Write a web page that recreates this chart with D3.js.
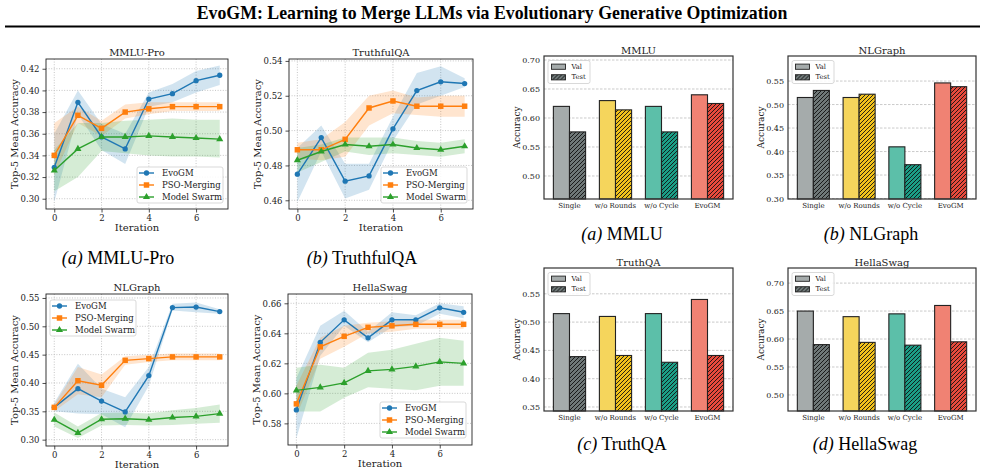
<!DOCTYPE html>
<html>
<head>
<meta charset="utf-8">
<script src="https://cdn.jsdelivr.net/npm/d3@7"></script>
<style>
  body { margin: 0; background: #fff; }
  svg text { font-family: "DejaVu Serif", serif; fill: #222; }
  svg .cap, svg .cap tspan, svg .main-title { font-family: "Liberation Serif", "Times New Roman", serif; fill: #000; }
</style>
</head>
<body>
<svg width="985" height="472"></svg>
<script>
// ---- data ----
const iterations = [0, 1, 2, 3, 4, 5, 6, 7];
const methods = ['EvoGM', 'PSO-Merging', 'Model Swarm'];

// rows: EvoGM, PSO-Merging, Model Swarm
const mmluProMean = [
  [0.329, 0.389, 0.357, 0.346, 0.392, 0.397, 0.409, 0.414],
  [0.340, 0.377, 0.365, 0.380, 0.383, 0.385, 0.385, 0.385],
  [0.326, 0.346, 0.357, 0.357, 0.358, 0.357, 0.356, 0.355]
];
const mmluProLow = [
  [0.297, 0.378, 0.345, 0.332, 0.385, 0.389, 0.398, 0.405],
  [0.322, 0.370, 0.358, 0.374, 0.378, 0.381, 0.381, 0.381],
  [0.307, 0.320, 0.344, 0.342, 0.340, 0.339, 0.339, 0.338]
];
const mmluProHigh = [
  [0.360, 0.400, 0.369, 0.360, 0.398, 0.406, 0.418, 0.423],
  [0.370, 0.385, 0.372, 0.387, 0.389, 0.389, 0.389, 0.389],
  [0.345, 0.370, 0.370, 0.372, 0.373, 0.374, 0.373, 0.373]
];

const truthfulMean = [
  [0.475, 0.496, 0.471, 0.474, 0.501, 0.523, 0.528, 0.527],
  [0.489, 0.489, 0.495, 0.513, 0.517, 0.514, 0.514, 0.514],
  [0.483, 0.488, 0.492, 0.491, 0.492, 0.490, 0.489, 0.491]
];
const truthfulLow = [
  [0.459, 0.488, 0.461, 0.466, 0.494, 0.515, 0.520, 0.525],
  [0.484, 0.483, 0.485, 0.503, 0.510, 0.509, 0.508, 0.508],
  [0.476, 0.482, 0.488, 0.486, 0.487, 0.486, 0.485, 0.487]
];
const truthfulHigh = [
  [0.490, 0.503, 0.481, 0.481, 0.508, 0.533, 0.537, 0.530],
  [0.493, 0.495, 0.505, 0.520, 0.523, 0.519, 0.520, 0.520],
  [0.490, 0.492, 0.496, 0.496, 0.496, 0.494, 0.493, 0.495]
];

const nlgraphMean = [
  [0.357, 0.390, 0.368, 0.349, 0.413, 0.533, 0.534, 0.526],
  [0.357, 0.404, 0.396, 0.440, 0.443, 0.446, 0.446, 0.446],
  [0.335, 0.312, 0.336, 0.337, 0.335, 0.339, 0.341, 0.346]
];
const nlgraphLow = [
  [0.350, 0.346, 0.345, 0.322, 0.395, 0.528, 0.525, 0.522],
  [0.350, 0.380, 0.375, 0.432, 0.437, 0.440, 0.440, 0.440],
  [0.323, 0.303, 0.325, 0.326, 0.325, 0.326, 0.328, 0.330]
];
const nlgraphHigh = [
  [0.365, 0.434, 0.390, 0.375, 0.428, 0.540, 0.542, 0.530],
  [0.362, 0.428, 0.415, 0.447, 0.450, 0.452, 0.452, 0.452],
  [0.348, 0.323, 0.347, 0.348, 0.346, 0.352, 0.356, 0.362]
];

const hellaMean = [
  [0.589, 0.634, 0.649, 0.637, 0.649, 0.649, 0.657, 0.654],
  [0.593, 0.631, 0.638, 0.644, 0.645, 0.646, 0.646, 0.646],
  [0.602, 0.604, 0.607, 0.615, 0.616, 0.618, 0.621, 0.620]
];
const hellaLow = [
  [0.570, 0.625, 0.645, 0.634, 0.644, 0.645, 0.653, 0.650],
  [0.585, 0.623, 0.631, 0.640, 0.641, 0.643, 0.643, 0.643],
  [0.588, 0.588, 0.597, 0.604, 0.603, 0.602, 0.605, 0.605]
];
const hellaHigh = [
  [0.610, 0.645, 0.655, 0.641, 0.654, 0.652, 0.660, 0.658],
  [0.605, 0.637, 0.645, 0.647, 0.648, 0.649, 0.649, 0.649],
  [0.617, 0.619, 0.617, 0.627, 0.629, 0.633, 0.637, 0.635]
];

const barCategories = ['Single', 'w/o Rounds', 'w/o Cycle', 'EvoGM'];
const mmluVal = [0.620, 0.630, 0.620, 0.640];
const mmluTest = [0.576, 0.614, 0.576, 0.625];
const nlgBarVal = [0.515, 0.515, 0.410, 0.546];
const nlgBarTest = [0.530, 0.522, 0.372, 0.538];
const truthQAVal = [0.515, 0.510, 0.515, 0.540];
const truthQATest = [0.439, 0.441, 0.429, 0.441];
const hellaBarVal = [0.650, 0.640, 0.645, 0.660];
const hellaBarTest = [0.590, 0.594, 0.589, 0.595];

// ---- drawing ----
const svg = d3.select('svg');
const lineColors = ['#1f77b4', '#ff7f0e', '#2ca02c'];
const symbols = [d3.symbolCircle, d3.symbolSquare, d3.symbolTriangle];
const symbolSizes = [22, 30, 22];
const valColors = ['#a5abab', '#f5d55c', '#5cbfa9', '#f08273'];
const testColors = ['#6f7878', '#f2c21b', '#1b9e86', '#e84a3c'];

// hatch patterns for the test bars
const defs = svg.append('defs');
testColors.forEach((c, i) => {
  const p = defs.append('pattern')
    .attr('id', 'hatch' + i)
    .attr('patternUnits', 'userSpaceOnUse')
    .attr('width', 4).attr('height', 4);
  p.append('rect').attr('width', 4).attr('height', 4).attr('fill', c);
  p.append('path')
    .attr('d', 'M-1,1 l2,-2 M0,4 l4,-4 M3,5 l2,-2')
    .attr('stroke', '#111').attr('stroke-width', 0.9);
});

// header
svg.append('text')
  .attr('class', 'main-title')
  .attr('x', 492).attr('y', 19)
  .attr('text-anchor', 'middle')
  .attr('font-size', 17.8).attr('font-weight', 'bold')
  .text('EvoGM: Learning to Merge LLMs via Evolutionary Generative Optimization');
svg.append('line')
  .attr('x1', 5).attr('x2', 980).attr('y1', 26.5).attr('y2', 26.5)
  .attr('stroke', '#000').attr('stroke-width', 2.2);

function caption(x, y, letter, name) {
  const t = svg.append('text').attr('class', 'cap')
    .attr('x', x).attr('y', y).attr('text-anchor', 'middle').attr('font-size', 18);
  t.append('tspan').attr('font-style', 'italic').text(`(${letter})`);
  t.append('tspan').text(' ' + name);
}

function styleAxis(sel, size) {
  sel.select('.domain').remove();
  sel.selectAll('text').attr('font-family', '"DejaVu Serif", serif')
    .attr('font-size', size).attr('fill', '#222');
  sel.selectAll('.tick line').attr('stroke', '#222').attr('stroke-width', 0.8);
}

function lineChart(o) {
  const x = d3.scaleLinear().domain([-0.35, 7.35]).range([o.left, o.right]);
  const y = d3.scaleLinear().domain(o.yDomain).range([o.bottom, o.top]);
  const g = svg.append('g');

  // dotted grid
  g.selectAll('.gx').data([0, 2, 4, 6]).join('line')
    .attr('x1', d => x(d)).attr('x2', d => x(d))
    .attr('y1', o.top).attr('y2', o.bottom)
    .attr('stroke', '#b8b8b8').attr('stroke-width', 0.8).attr('stroke-dasharray', '1,1.6');
  g.selectAll('.gy').data(o.yTicks).join('line')
    .attr('x1', o.left).attr('x2', o.right)
    .attr('y1', d => y(d)).attr('y2', d => y(d))
    .attr('stroke', '#b8b8b8').attr('stroke-width', 0.8).attr('stroke-dasharray', '1,1.6');

  // shaded bands
  methods.forEach((m, i) => {
    const area = d3.area()
      .x(d => x(d))
      .y0(d => y(o.low[i][d]))
      .y1(d => y(o.high[i][d]));
    g.append('path').datum(iterations)
      .attr('d', area).attr('fill', lineColors[i]).attr('fill-opacity', 0.2);
  });

  // lines and markers
  methods.forEach((m, i) => {
    const line = d3.line().x(d => x(d)).y(d => y(o.mean[i][d]));
    g.append('path').datum(iterations)
      .attr('d', line).attr('fill', 'none')
      .attr('stroke', lineColors[i]).attr('stroke-width', 1.4);
    g.selectAll('.m' + i).data(iterations).join('path')
      .attr('transform', d => `translate(${x(d)},${y(o.mean[i][d])})`)
      .attr('d', d3.symbol(symbols[i], symbolSizes[i]))
      .attr('fill', lineColors[i]);
  });

  // frame
  g.append('rect')
    .attr('x', o.left).attr('y', o.top)
    .attr('width', o.right - o.left).attr('height', o.bottom - o.top)
    .attr('fill', 'none').attr('stroke', '#222').attr('stroke-width', 0.9);

  // axes
  g.append('g').attr('transform', `translate(0,${o.bottom})`)
    .call(d3.axisBottom(x).tickValues([0, 2, 4, 6]).tickSize(3.5).tickPadding(2).tickFormat(d3.format('d')))
    .call(s => styleAxis(s, 8.5));
  g.append('g').attr('transform', `translate(${o.left},0)`)
    .call(d3.axisLeft(y).tickValues(o.yTicks).tickSize(3.5).tickPadding(3).tickFormat(d3.format('.2f')))
    .call(s => styleAxis(s, 8.5));

  g.append('text')
    .attr('x', (o.left + o.right) / 2).attr('y', o.top - 3)
    .attr('text-anchor', 'middle').attr('font-size', 10).text(o.title);
  g.append('text')
    .attr('x', (o.left + o.right) / 2).attr('y', o.bottom + 22)
    .attr('text-anchor', 'middle').attr('font-size', 10).text('Iteration');
  g.append('text')
    .attr('transform', `translate(${o.left - 32},${(o.top + o.bottom) / 2}) rotate(-90)`)
    .attr('text-anchor', 'middle').attr('dominant-baseline', 'central')
    .attr('font-size', 10).text('Top-5 Mean Accuracy');

  // legend
  const lg = g.append('g').attr('transform', `translate(${o.legend[0]},${o.legend[1]})`);
  lg.append('rect').attr('width', 86).attr('height', 36).attr('rx', 2)
    .attr('fill', '#fff').attr('fill-opacity', 0.85)
    .attr('stroke', '#cfcfcf').attr('stroke-width', 0.8);
  methods.forEach((m, i) => {
    const ry = 6 + i * 12;
    lg.append('line').attr('x1', 2).attr('x2', 17).attr('y1', ry).attr('y2', ry)
      .attr('stroke', lineColors[i]).attr('stroke-width', 1.4);
    lg.append('path').attr('transform', `translate(9.5,${ry})`)
      .attr('d', d3.symbol(symbols[i], symbolSizes[i])).attr('fill', lineColors[i]);
    lg.append('text').attr('x', 25).attr('y', ry).attr('dominant-baseline', 'central')
      .attr('font-size', 8.5).text(m);
  });
}

function barChart(o) {
  const x = d3.scaleBand().domain(barCategories)
    .range([o.left, o.right]).paddingInner(0).paddingOuter(0.054);
  const y = d3.scaleLinear().domain(o.yDomain).range([o.bottom, o.top]);
  const bw = x.step() * 0.35;
  const g = svg.append('g');

  g.selectAll('.gy').data(o.yTicks).join('line')
    .attr('x1', o.left).attr('x2', o.right)
    .attr('y1', d => y(d)).attr('y2', d => y(d))
    .attr('stroke', '#bdbdbd').attr('stroke-width', 0.8).attr('stroke-dasharray', '2.5,1.5');

  const cx = c => x(c) + x.bandwidth() / 2;
  g.selectAll('.val').data(barCategories).join('rect')
    .attr('x', d => cx(d) - bw).attr('width', bw)
    .attr('y', (d, i) => y(o.val[i])).attr('height', (d, i) => o.bottom - y(o.val[i]))
    .attr('fill', (d, i) => valColors[i])
    .attr('stroke', '#222').attr('stroke-width', 1.1);
  g.selectAll('.test').data(barCategories).join('rect')
    .attr('x', d => cx(d)).attr('width', bw)
    .attr('y', (d, i) => y(o.test[i])).attr('height', (d, i) => o.bottom - y(o.test[i]))
    .attr('fill', (d, i) => `url(#hatch${i})`)
    .attr('stroke', '#222').attr('stroke-width', 1.1);

  g.append('rect')
    .attr('x', o.left).attr('y', o.top)
    .attr('width', o.right - o.left).attr('height', o.bottom - o.top)
    .attr('fill', 'none').attr('stroke', '#333').attr('stroke-width', 1.2);

  g.append('g').attr('transform', `translate(0,${o.bottom})`)
    .call(d3.axisBottom(x).tickSize(0).tickPadding(4))
    .call(s => styleAxis(s, 7));
  g.append('g').attr('transform', `translate(${o.left},0)`)
    .call(d3.axisLeft(y).tickValues(o.yTicks).tickSize(0).tickPadding(4).tickFormat(d3.format('.2f')))
    .call(s => styleAxis(s, 8));

  g.append('text')
    .attr('x', (o.left + o.right) / 2).attr('y', o.top - 2.5)
    .attr('text-anchor', 'middle').attr('font-size', 10).text(o.title);
  g.append('text')
    .attr('transform', `translate(${o.left - 27.5},${(o.top + o.bottom) / 2}) rotate(-90)`)
    .attr('text-anchor', 'middle').attr('dominant-baseline', 'central')
    .attr('font-size', 9).text('Accuracy');

  // legend
  const lg = g.append('g').attr('transform', `translate(${o.left + 4},${o.top + 4.5})`);
  lg.append('rect').attr('width', 42).attr('height', 23).attr('rx', 2)
    .attr('fill', '#fff').attr('fill-opacity', 0.85)
    .attr('stroke', '#cfcfcf').attr('stroke-width', 0.8);
  [['Val', valColors[0]], ['Test', 'url(#hatch0)']].forEach(([label, fill], i) => {
    const ry = 6.2 + i * 10.6;
    lg.append('rect').attr('x', 3.5).attr('y', ry - 2.6).attr('width', 14).attr('height', 5.2)
      .attr('fill', fill).attr('stroke', '#222').attr('stroke-width', 0.9);
    lg.append('text').attr('x', 23.5).attr('y', ry).attr('dominant-baseline', 'central')
      .attr('font-size', 6.8).attr('fill', '#222').text(label);
  });
}

const t02 = d => d3.range(d[0], d[1] + 1e-9, d[2]).map(v => +v.toFixed(2));

lineChart({ title: 'MMLU-Pro', left: 46, right: 228, top: 59, bottom: 209,
  yDomain: [0.2905, 0.429], yTicks: t02([0.30, 0.42, 0.02]),
  mean: mmluProMean, low: mmluProLow, high: mmluProHigh, legend: [137, 167] });
lineChart({ title: 'TruthfulQA', left: 289, right: 473, top: 59, bottom: 209,
  yDomain: [0.455, 0.5411], yTicks: t02([0.46, 0.54, 0.02]),
  mean: truthfulMean, low: truthfulLow, high: truthfulHigh, legend: [381, 167] });
lineChart({ title: 'NLGraph', left: 46, right: 228, top: 294, bottom: 446,
  yDomain: [0.2888, 0.557], yTicks: t02([0.30, 0.55, 0.05]),
  mean: nlgraphMean, low: nlgraphLow, high: nlgraphHigh, legend: [50, 300] });
lineChart({ title: 'HellaSwag', left: 288, right: 472, top: 294, bottom: 445,
  yDomain: [0.5656, 0.6662], yTicks: t02([0.58, 0.66, 0.02]),
  mean: hellaMean, low: hellaLow, high: hellaHigh, legend: [380, 402] });

barChart({ title: 'MMLU', left: 544, right: 733, top: 56, bottom: 199,
  yDomain: [0.4603, 0.7069], yTicks: t02([0.50, 0.70, 0.05]), val: mmluVal, test: mmluTest });
barChart({ title: 'NLGraph', left: 788, right: 976, top: 56, bottom: 199,
  yDomain: [0.299, 0.6033], yTicks: t02([0.30, 0.55, 0.05]), val: nlgBarVal, test: nlgBarTest });
barChart({ title: 'TruthQA', left: 544, right: 733, top: 268, bottom: 411,
  yDomain: [0.3429, 0.5956], yTicks: t02([0.35, 0.55, 0.05]), val: truthQAVal, test: truthQATest });
barChart({ title: 'HellaSwag', left: 788, right: 976, top: 268, bottom: 411,
  yDomain: [0.4713, 0.727], yTicks: t02([0.50, 0.70, 0.05]), val: hellaBarVal, test: hellaBarTest });

caption(118, 264, 'a', 'MMLU-Pro');
caption(362, 264, 'b', 'TruthfulQA');
caption(622, 240, 'a', 'MMLU');
caption(871, 240, 'b', 'NLGraph');
caption(622, 450, 'c', 'TruthQA');
caption(865, 450, 'd', 'HellaSwag');
</script>
</body>
</html>
